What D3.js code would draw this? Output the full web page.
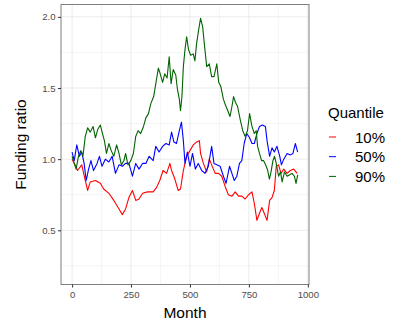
<!DOCTYPE html>
<html>
<head>
<meta charset="utf-8">
<script src="https://cdn.jsdelivr.net/npm/d3@7"></script>
<style>
  body { margin: 0; background: #fff; }
  svg { display: block; font-family: "Liberation Sans", Arial, sans-serif; }
</style>
</head>
<body>
<svg id="chart" width="400" height="324"></svg>
<script>
// values (month, funding ratio)
const months10 = [0, 13, 23, 41, 56, 66, 77, 99, 120, 134, 156, 177, 199, 213, 227, 241, 256, 270, 284, 299, 320, 344, 358, 372, 386, 401, 415, 422, 436, 450, 460, 472, 486, 500, 514, 528, 540, 545, 557, 571, 582, 592, 607, 621, 635, 649, 663, 678, 692, 706, 720, 734, 749, 763, 773, 784, 795, 805, 815, 827, 838, 848, 858, 866, 876, 886, 898, 912, 926, 940, 955];
const q10 = [1.00, 0.96, 0.92, 0.96, 0.85, 0.78, 0.84, 0.85, 0.83, 0.79, 0.76, 0.71, 0.65, 0.61, 0.65, 0.73, 0.78, 0.71, 0.72, 0.76, 0.77, 0.77, 0.80, 0.85, 0.92, 0.90, 0.97, 0.92, 0.86, 0.78, 0.79, 0.92, 1.02, 1.06, 1.10, 1.12, 1.13, 1.04, 0.97, 0.91, 1.00, 0.96, 0.90, 0.90, 0.88, 0.81, 0.75, 0.74, 0.77, 0.74, 0.74, 0.72, 0.75, 0.77, 0.69, 0.57, 0.62, 0.66, 0.62, 0.57, 0.71, 0.73, 0.78, 0.95, 0.96, 0.90, 0.93, 0.90, 0.92, 0.93, 0.90];

const months50 = [0, 9, 20, 31, 41, 51, 60, 70, 80, 91, 106, 116, 127, 141, 156, 170, 184, 199, 213, 227, 241, 256, 270, 284, 299, 313, 327, 344, 355, 369, 384, 398, 412, 422, 432, 443, 455, 464, 472, 479, 489, 500, 511, 523, 535, 550, 564, 578, 592, 602, 614, 628, 642, 653, 668, 678, 688, 699, 710, 720, 730, 741, 753, 763, 773, 784, 795, 807, 820, 827, 838, 848, 858, 869, 881, 888, 898, 912, 926, 937, 947, 957];
const q50 = [1.05, 0.99, 1.10, 1.02, 1.05, 0.97, 0.85, 0.93, 0.99, 0.92, 0.97, 1.02, 0.95, 1.00, 0.98, 1.02, 0.90, 0.96, 0.95, 0.97, 0.97, 0.88, 0.97, 0.93, 0.97, 0.97, 1.02, 0.99, 1.09, 1.05, 1.09, 1.11, 1.10, 1.19, 1.12, 1.11, 1.20, 1.26, 1.13, 0.97, 1.05, 0.95, 1.04, 0.93, 0.97, 0.92, 0.90, 0.95, 1.09, 0.97, 0.96, 0.95, 0.88, 0.83, 0.95, 0.90, 0.85, 0.88, 0.97, 0.99, 1.11, 1.18, 1.15, 1.11, 1.11, 1.18, 1.23, 1.24, 1.23, 1.13, 1.02, 1.08, 1.05, 1.09, 1.02, 0.96, 1.00, 1.04, 1.03, 1.04, 1.11, 1.05];

const months90 = [0, 9, 17, 27, 37, 46, 56, 66, 77, 89, 99, 109, 120, 129, 137, 146, 156, 166, 177, 189, 199, 209, 220, 227, 237, 249, 260, 270, 280, 291, 303, 313, 324, 334, 346, 356, 366, 372, 384, 393, 403, 412, 420, 429, 440, 447, 455, 460, 466, 472, 479, 486, 494, 503, 514, 521, 528, 537, 545, 554, 561, 571, 582, 592, 602, 614, 622, 631, 642, 653, 663, 670, 678, 685, 693, 702, 713, 724, 734, 744, 753, 763, 773, 781, 787, 795, 804, 812, 821, 830, 837, 844, 852, 859, 866, 876, 884, 891, 901, 912, 923, 933, 943, 950, 957];
const q90 = [1.02, 0.97, 0.93, 1.02, 1.06, 1.02, 1.16, 1.22, 1.19, 1.23, 1.15, 1.21, 1.24, 1.18, 1.13, 1.04, 1.11, 1.06, 1.02, 1.10, 1.04, 0.96, 0.99, 1.04, 0.96, 0.99, 1.04, 1.16, 1.20, 1.18, 1.23, 1.29, 1.32, 1.39, 1.44, 1.54, 1.64, 1.61, 1.54, 1.60, 1.57, 1.72, 1.53, 1.63, 1.59, 1.49, 1.42, 1.34, 1.44, 1.65, 1.77, 1.86, 1.77, 1.73, 1.74, 1.69, 1.81, 1.91, 1.99, 1.93, 1.81, 1.65, 1.67, 1.58, 1.58, 1.67, 1.54, 1.51, 1.42, 1.37, 1.33, 1.30, 1.37, 1.44, 1.40, 1.37, 1.28, 1.20, 1.16, 1.20, 1.32, 1.23, 1.18, 1.20, 1.09, 1.04, 0.99, 0.99, 0.96, 0.92, 0.86, 0.91, 0.99, 1.02, 0.97, 0.88, 0.91, 0.84, 0.91, 0.88, 0.89, 0.90, 0.88, 0.83, 0.89];

const quantiles = ["10%", "50%", "90%"];
const colours = ["#ff0000", "#0000ff", "#006400"];
const xTicks = [0, 250, 500, 750, 1000];
const yTicks = [0.5, 1.0, 1.5, 2.0];

const series = [
  { name: quantiles[0], months: months10, values: q10 },
  { name: quantiles[1], months: months50, values: q50 },
  { name: quantiles[2], months: months90, values: q90 }
];

const svg = d3.select("#chart");
const pLeft = 61, pRight = 309, pTop = 4.5, pBottom = 284.5;

const x = d3.scaleLinear().domain([-47, 1005]).range([pLeft, pRight]);
const y = d3.scaleLinear().domain([0.119, 2.087]).range([pBottom, pTop]);

// panel grid, major and minor
const grid = svg.append("g");
const xMinor = [125, 375, 625, 875];
const yMinor = [0.25, 0.75, 1.25, 1.75];
grid.selectAll(".xm").data(xMinor).enter().append("line")
  .attr("x1", d => x(d)).attr("x2", d => x(d))
  .attr("y1", pTop).attr("y2", pBottom)
  .attr("stroke", "#ebebeb").attr("stroke-width", 0.5);
grid.selectAll(".ym").data(yMinor).enter().append("line")
  .attr("x1", pLeft).attr("x2", pRight)
  .attr("y1", d => y(d)).attr("y2", d => y(d))
  .attr("stroke", "#ebebeb").attr("stroke-width", 0.5);
grid.selectAll(".xM").data(xTicks.filter(d => x(d) < pRight)).enter().append("line")
  .attr("x1", d => x(d)).attr("x2", d => x(d))
  .attr("y1", pTop).attr("y2", pBottom)
  .attr("stroke", "#ebebeb").attr("stroke-width", 1);
grid.selectAll(".yM").data(yTicks).enter().append("line")
  .attr("x1", pLeft).attr("x2", pRight)
  .attr("y1", d => y(d)).attr("y2", d => y(d))
  .attr("stroke", "#ebebeb").attr("stroke-width", 1);

// lines
const line = d3.line()
  .x(d => x(d[0]))
  .y(d => y(d[1]));

series.forEach((s, i) => {
  svg.append("path")
    .datum(d3.zip(s.months, s.values))
    .attr("d", line)
    .attr("fill", "none")
    .attr("stroke", colours[i])
    .attr("stroke-width", 1.1)
    .attr("stroke-linejoin", "round");
});

// border
svg.append("rect")
  .attr("x", pLeft).attr("y", pTop)
  .attr("width", pRight - pLeft).attr("height", pBottom - pTop)
  .attr("fill", "none").attr("stroke", "#7f7f7f").attr("stroke-width", 1);

// axes
const xAxis = svg.append("g")
  .attr("transform", `translate(0,${pBottom})`)
  .call(d3.axisBottom(x).tickValues(xTicks).tickSize(3).tickPadding(4).tickFormat(d3.format("d")));
const yAxis = svg.append("g")
  .attr("transform", `translate(${pLeft},0)`)
  .call(d3.axisLeft(y).tickValues(yTicks).tickSize(3).tickPadding(2.5).tickFormat(d3.format(".1f")));

[xAxis, yAxis].forEach(a => {
  a.select(".domain").remove();
  a.selectAll(".tick line").attr("stroke", "#333333");
  a.selectAll(".tick text")
    .attr("fill", "#4d4d4d")
    .attr("font-size", 9.6)
    .attr("font-family", "Liberation Sans, Arial, sans-serif");
});

// axis titles
svg.append("text")
  .attr("x", (pLeft + pRight) / 2).attr("y", 318)
  .attr("text-anchor", "middle")
  .attr("font-size", 15.5)
  .text("Month");

svg.append("text")
  .attr("transform", `translate(26,${(pTop + pBottom) / 2}) rotate(-90)`)
  .attr("text-anchor", "middle")
  .attr("font-size", 15.5)
  .text("Funding ratio");

// legend
const legend = svg.append("g").attr("transform", "translate(328,0)");
legend.append("text")
  .attr("x", 0).attr("y", 118)
  .attr("font-size", 15)
  .text("Quantile");

const items = legend.selectAll(".item").data(quantiles).enter().append("g")
  .attr("transform", (d, i) => `translate(0,${137 + i * 19.7})`);
items.append("line")
  .attr("x1", 1).attr("x2", 8)
  .attr("stroke", (d, i) => colours[i])
  .attr("stroke-width", 1);
items.append("text")
  .attr("x", 27).attr("y", 5.5)
  .attr("font-size", 15)
  .text(d => d);
</script>
</body>
</html>
